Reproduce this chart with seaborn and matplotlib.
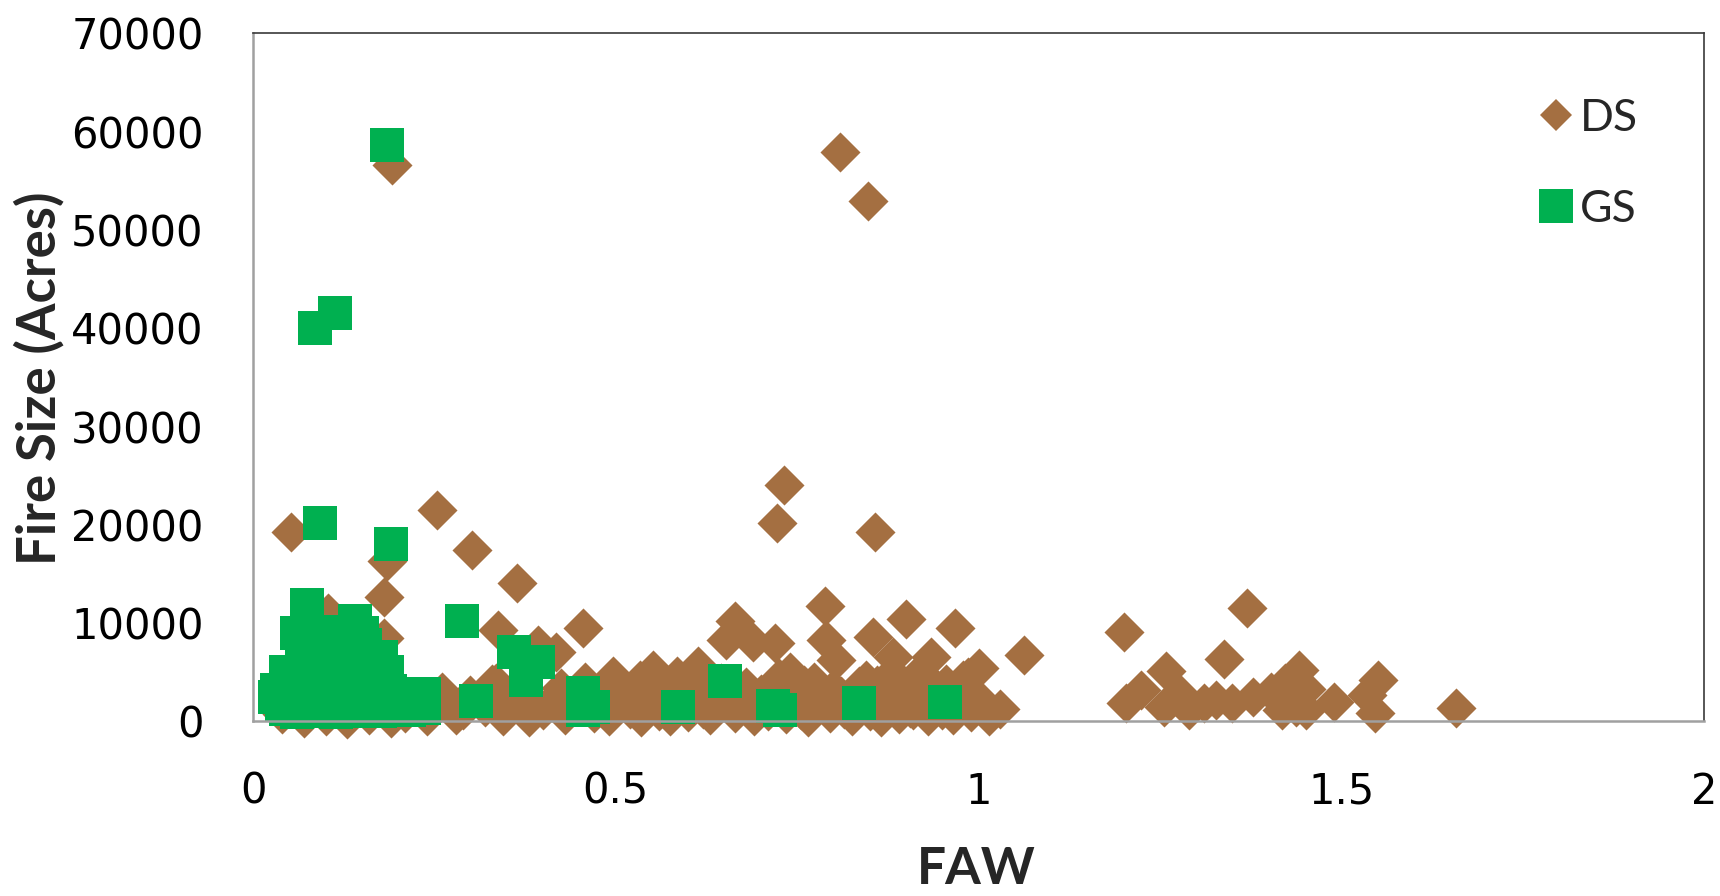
import matplotlib
matplotlib.use('Agg')
import matplotlib.pyplot as plt
from matplotlib.lines import Line2D
import seaborn as sns

# fire size (acres) against FAW
ds_faw = [0.053, 0.191, 0.184, 0.180, 0.180, 0.103, 0.152, 0.253, 0.302, 0.364,
          0.337, 0.455, 0.393, 0.418, 0.457, 0.372, 0.381, 0.271, 0.299, 0.496,
          0.533, 0.505, 0.512, 0.551, 0.613, 0.664, 0.689, 0.719, 0.652, 0.732,
          0.722, 0.809, 0.848, 0.857, 0.788, 0.790, 0.773, 0.730, 0.625, 0.583,
          0.501, 0.854, 0.900, 0.967, 1.063, 0.804, 0.882, 0.935, 1.001, 0.845,
          1.029, 0.923, 0.978, 0.335,
          1.201, 1.370, 1.339, 1.259, 1.224, 1.203, 1.256, 1.277, 1.290, 1.311,
          1.327, 1.350, 1.378, 1.403, 1.419, 1.442, 1.437, 1.423, 1.490, 1.536,
          1.551, 1.546, 1.658, 1.451, 1.452,
          0.400, 0.415, 0.430, 0.440, 0.470, 0.480, 0.490, 0.520, 0.535, 0.545,
          0.560, 0.575, 0.590, 0.600, 0.615, 0.630, 0.640, 0.655, 0.665, 0.675,
          0.690, 0.700, 0.710, 0.735, 0.745, 0.755, 0.765, 0.780, 0.795, 0.810,
          0.815, 0.825, 0.840, 0.850, 0.865, 0.870, 0.880, 0.890, 0.900, 0.910,
          0.930, 0.940, 0.950, 0.965, 0.975, 0.990, 1.005, 1.015,
          0.040, 0.070, 0.100, 0.130, 0.160, 0.190, 0.210, 0.240, 0.260, 0.280,
          0.290, 0.320, 0.330, 0.345, 0.360,
          0.425, 0.505, 0.565, 0.605, 0.645, 0.680, 0.725, 0.760, 0.800, 0.835,
          0.860, 0.895, 0.920, 0.955, 0.985, 0.470, 0.545, 0.620, 0.700, 0.775,
          0.830, 0.905, 0.960, 1.010, 0.585, 0.740, 0.880, 0.985]
ds_size = [19300, 56600, 16300, 12700, 8500, 11000, 7500, 21500, 17400, 14100,
           9300, 9500, 7800, 7100, 4000, 2500, 500, 1500, 2700, 4600,
           4200, 1900, 3000, 5200, 5600, 10200, 8100, 8000, 8300, 24100,
           20200, 57900, 53000, 19300, 11700, 8300, 4000, 3500, 3200, 2900,
           2500, 8600, 10400, 9500, 6800, 6300, 6600, 6600, 5400, 4200,
           1300, 3500, 4200, 3900,
           9100, 11500, 6400, 5100, 3200, 1850, 1500, 2900, 1200, 1850,
           2200, 1850, 2500, 3000, 1200, 5200, 1500, 3900, 2000, 2700,
           4200, 900, 1350, 1200, 3300,
           1200, 2200, 700, 1800, 900, 2400, 600, 1300, 500, 2000,
           1100, 600, 2300, 1000, 2000, 700, 1600, 2600, 900, 1900,
           600, 2800, 1100, 800, 2100, 1200, 500, 2000, 900, 2600,
           1300, 600, 2900, 1100, 500, 1800, 3100, 800, 2000, 1200,
           600, 2300, 1200, 700, 2600, 1000, 2000, 600,
           800, 400, 600, 300, 700, 400, 900, 600, 3000, 700,
           1200, 1500, 3800, 600, 1800,
           3400, 3600, 3300, 3800, 3900, 3500, 4400, 3700, 3300, 3600,
           3700, 3900, 5000, 3800, 3300, 1600, 1400, 1300, 1500, 1400,
           1500, 1400, 1500, 1300, 4600, 5000, 4800, 4500]

gs_faw = [0.030, 0.033, 0.046, 0.046, 0.040, 0.055, 0.060, 0.067, 0.074, 0.072,
          0.080, 0.083, 0.088, 0.092, 0.097, 0.100, 0.105, 0.112, 0.118, 0.125,
          0.130, 0.140, 0.140, 0.148, 0.155, 0.160, 0.165, 0.177, 0.178, 0.189,
          0.195, 0.205, 0.215, 0.236, 0.236,
          0.060, 0.065, 0.075, 0.085, 0.090, 0.110, 0.105, 0.125, 0.150, 0.170,
          0.185, 0.200, 0.220, 0.225, 0.060, 0.090, 0.115, 0.140, 0.175, 0.135,
          0.085, 0.113, 0.092, 0.184, 0.190, 0.288, 0.308, 0.360, 0.393, 0.376,
          0.455, 0.455, 0.469, 0.586, 0.650, 0.717, 0.727, 0.835, 0.954]
gs_size = [2500, 3200, 5000, 1300, 1800, 3800, 2200, 6600, 11800, 9000,
           4500, 1200, 7200, 3000, 9100, 5600, 1500, 8200, 3600, 6400,
           1300, 10200, 4800, 2500, 7800, 1200, 4200, 6600, 2800, 3100,
           1400, 2200, 1200, 2800, 1400,
           9000, 4500, 2800, 5500, 7500, 9100, 6500, 8500, 9000, 4500,
           5000, 2800, 2800, 1400, 1000, 1100, 1000, 1100, 1100, 3800,
           40000, 41600, 20200, 58600, 18100, 10200, 2050, 7100, 6000, 4200,
           2900, 1200, 1500, 1500, 4100, 1600, 1200, 1850, 2000]

x_ticks = [0, 0.5, 1, 1.5, 2]
x_tick_labels = ['0', '0.5', '1', '1.5', '2']
y_ticks = [0, 10000, 20000, 30000, 40000, 50000, 60000, 70000]

brown = '#A46F41'
green = '#00B050'
axis_grey = '#A0A0A0'

sns.set_style('white')
plt.rcParams['font.family'] = ['DejaVu Sans']

fig = plt.figure(figsize=(17.2, 8.96), dpi=100)
ax = fig.add_axes([0.1471, 0.1948, 0.8436, 0.7679])

sns.scatterplot(x=ds_faw, y=ds_size, marker='D', s=416, color=brown,
                linewidth=0, clip_on=False, ax=ax)
sns.scatterplot(x=gs_faw, y=gs_size, marker='s', s=570, color=green,
                linewidth=0, clip_on=False, ax=ax)

ax.set_xlim(0, 2)
ax.set_ylim(0, 70000)
ax.set_xticks(x_ticks)
ax.set_xticklabels(x_tick_labels)
ax.set_yticks(y_ticks)
ax.set_yticklabels([str(v) for v in y_ticks])
ax.tick_params(axis='both', direction='out', length=13.5, width=1.5,
               color=axis_grey, labelsize=30, labelcolor='black', pad=22)

for side in ['left', 'bottom']:
    ax.spines[side].set_color(axis_grey)
    ax.spines[side].set_linewidth(1.8)
for side in ['top', 'right']:
    ax.spines[side].set_color('#3A3A3A')
    ax.spines[side].set_linewidth(1.2)
ax.set_xlabel('')
ax.set_ylabel('')

fig.text(0.5677, 0.003, 'FAW', family='Lato', fontweight='bold',
         fontsize=37, ha='center', va='bottom')
fig.text(0.023, 0.578, 'Fire Size (Acres)', family='Lato', fontweight='bold',
         fontsize=38, rotation=90, ha='center', va='center')

handles = [Line2D([], [], marker='D', linestyle='none', color=brown,
                  markeredgewidth=0, markersize=16.8),
           Line2D([], [], marker='s', linestyle='none', color=green,
                  markeredgewidth=0, markersize=24)]
leg = ax.legend(handles, ['DS', 'GS'], loc='upper left',
                bbox_to_anchor=(1538 / 1720, 1 - 98 / 896),
                bbox_transform=fig.transFigure, frameon=False,
                handlelength=0.8, handletextpad=0.15, labelspacing=1.12,
                borderpad=0, borderaxespad=0,
                prop={'family': 'Lato', 'size': 32})

fig.savefig('out.png', dpi=100)
